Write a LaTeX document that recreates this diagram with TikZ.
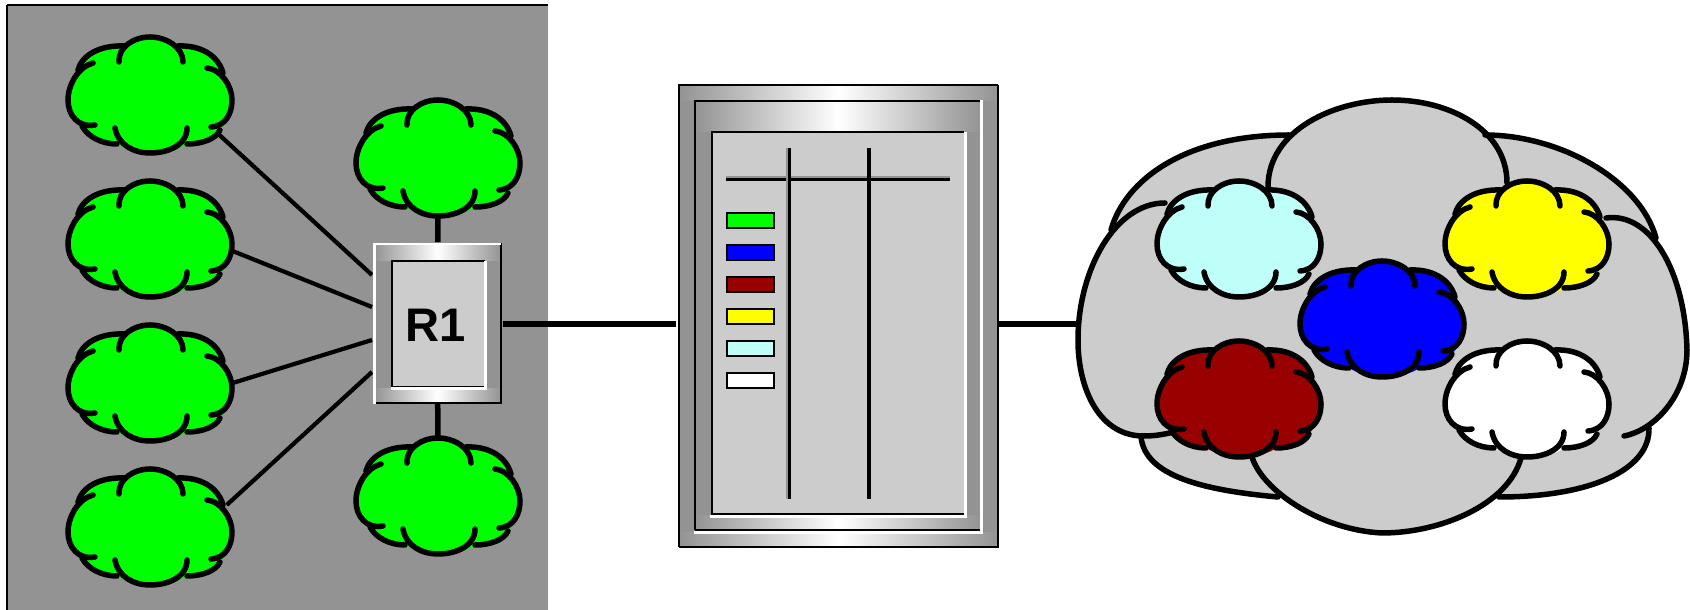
\documentclass[tikz,border=0pt]{standalone}
\usepackage{fontspec}
\setsansfont{Liberation Sans}
\usetikzlibrary{shapes.geometric}
\definecolor{panelgray}{HTML}{939393}
\definecolor{lightgray}{HTML}{CCCCCC}
\definecolor{cloudgreen}{HTML}{00FF00}
\definecolor{cloudblue}{HTML}{0000FF}
\definecolor{cloudred}{HTML}{990000}
\definecolor{cloudyellow}{HTML}{FFFF00}
\definecolor{cloudcyan}{HTML}{BFFFFA}
\tikzset{
  outline/.style={line width=0.055cm,line cap=round},
  wire/.style={line width=0.042cm},
  trunk/.style={line width=0.055cm},
  hair/.style={line width=0.012cm},
  edge/.style={line width=0.02cm},
  glint/.style={white,line width=0.028cm},
  cloudspot/.style={ellipse,minimum width=1.64cm,minimum height=1.16cm,inner sep=0pt},
  band/.style={left color=panelgray,right color=panelgray,middle color=white,shading angle=90},
  lumpcloud/.pic={
    \fill[#1] (-26,-49) .. controls (-16,-58) and (16,-58) .. (28,-49)
      .. controls (50,-50) and (68,-40) .. (73,-24)
      .. controls (80,-12) and (82,-4) .. (82,5)
      .. controls (82,16) and (78,26) .. (70,35)
      .. controls (66,44) and (52,49) .. (37,49)
      .. controls (24,60) and (-16,60) .. (-33,49)
      .. controls (-48,49) and (-62,42) .. (-68,31)
      .. controls (-76,24) and (-82,16) .. (-82,5)
      .. controls (-82,-6) and (-78,-16) .. (-72,-24)
      .. controls (-68,-40) and (-50,-50) .. (-26,-49) -- cycle;
    \draw[outline] (-31,-33) .. controls (-32,-48) and (-16,-58) .. (0,-58)
      .. controls (16,-58) and (33,-48) .. (33,-33);
    \draw[outline] (-35,33) .. controls (-32,50) and (-16,58) .. (0,58)
      .. controls (18,58) and (37,50) .. (37,33);
    \draw[outline] (57,-27) .. controls (70,-26) and (82,-10) .. (82,5)
      .. controls (82,18) and (76,31) .. (61,32);
    \draw[outline] (-57,-32) .. controls (-72,-28) and (-82,-10) .. (-82,5)
      .. controls (-82,20) and (-72,33) .. (-55,30);
    \draw[outline] (28,-49) .. controls (50,-50) and (68,-40) .. (73,-22);
    \draw[outline] (70,35) .. controls (66,44) and (52,49) .. (37,49);
    \draw[outline] (-68,31) .. controls (-62,42) and (-48,49) .. (-33,49);
    \draw[outline] (-72,-25) .. controls (-68,-40) and (-50,-50) .. (-26,-49);
  }
}
\begin{document}
\begin{tikzpicture}[x=0.01cm,y=-0.01cm]
  \useasboundingbox (0,0) rectangle (1690,610);
  \fill[panelgray] (7,5) rectangle (548,610);
  \draw[edge] (7,5) -- (548,5);
  \draw[edge] (7,5) -- (7,610);

  \foreach \n/\p/\q in {1/150/95, 2/150/239, 3/150/383, 4/150/527, 5/438/158, 6/438/496}
    {\node[cloudspot] (cloud\n) at (\p,\q) {};}
  \coordinate (port1) at (372,275);
  \coordinate (port2) at (372,307);
  \coordinate (port3) at (372,340);
  \coordinate (port4) at (372,372);
  \draw[wire] (cloud1.-29) -- (port1);
  \draw[wire] (cloud2.-8) -- (port2);
  \draw[wire] (cloud3.0) -- (port3);
  \draw[wire] (cloud4.16) -- (port4);
  \node[minimum width=1.29cm,minimum height=1.6cm,inner sep=0pt] (router) at (437.5,323) {};
  \draw[trunk] (cloud5) -- (router);
  \draw[trunk] (cloud6) -- (router);
  \foreach \n/\p/\q in {1/150/95, 2/150/239, 3/150/383, 4/150/527, 5/438/158, 6/438/496}
    {\pic at (\p,\q) {lumpcloud=cloudgreen};}

  \fill[panelgray] (374,244) rectangle (501,403);
  \shade[band] (374,244) rectangle (501,261);
  \shade[band] (374,389) rectangle (501,403);
  \draw[edge] (373,403) -- (501,403) -- (501,243);
  \draw[glint] (374.5,404) -- (374.5,244) -- (501,244);
  \fill[lightgray] (392,261) rectangle (486,387);
  \draw[hair] (392,386.5) -- (486,386.5);
  \draw[edge] (392,387) -- (392,261.5) -- (485,261.5);
  \draw[glint] (391,388.4) -- (485.7,388.4) -- (485.7,261);
  \node[font=\sffamily\bfseries\fontsize{13.4pt}{14pt}\selectfont,inner sep=0pt] (label) at (436,325) {R1};

  \node[minimum width=3.19cm,minimum height=4.63cm,inner sep=0pt] (server) at (838.5,316.5) {};
  \fill[panelgray] (679,85) rectangle (998,547);
  \shade[band] (679,85) rectangle (998,101);
  \shade[band] (679,533) rectangle (998,547);
  \draw[hair] (679,547) -- (679,85) -- (998,85);
  \draw[edge] (679,547) -- (998,547) -- (998,85);
  \fill[panelgray] (695,101) rectangle (981,531);
  \shade[band] (695,101) rectangle (981,132);
  \shade[band] (695,516) rectangle (981,531);
  \draw[hair] (695,530) -- (981,530);
  \draw[edge] (695,530) -- (695,101) -- (980,101);
  \draw[glint] (694,532.3) -- (981.5,532.3) -- (981.5,100);
  \fill[lightgray] (711,132) rectangle (965,514);
  \draw[hair] (711,514) -- (965,514);
  \draw[edge] (711.5,514) -- (711.5,132) -- (964,132);
  \draw[glint] (710,516.2) -- (965.5,516.2) -- (965.5,132);

  \draw[panelgray,edge] (726,176.8) -- (950,176.8);
  \draw[line width=0.03cm] (726,179.2) -- (950,179.2);
  \draw[panelgray,edge] (787.3,148) -- (787.3,499);
  \draw[line width=0.024cm] (789.5,148) -- (789.5,499);
  \draw[line width=0.034cm] (869,148) -- (869,499);
  \foreach \q/\c in {213/cloudgreen, 245/cloudblue, 277/cloudred, 309/cloudyellow, 341/cloudcyan, 373/white}
    {\filldraw[\c,draw=black,line width=0.024cm] (727,\q) rectangle (774,\q+15);}

  \coordinate (serverin) at (676,324);
  \coordinate (serverout) at (998,324);
  \coordinate (netin) at (1080,324);
  \draw[trunk] (router.east |- serverin) -- (serverin);
  \draw[trunk] (serverout) -- (netin);

  \fill[lightgray] (1113,230) .. controls (1125,180) and (1185,135) .. (1289,135)
    -- (1268,187) .. controls (1268,130) and (1335,100) .. (1392,100)
    .. controls (1450,100) and (1507,130) .. (1507,183)
    -- (1485,135) .. controls (1560,135) and (1640,180) .. (1656,238)
    -- (1662,252) .. controls (1677,275) and (1687,310) .. (1687,350)
    .. controls (1687,385) and (1670,415) .. (1649,428)
    .. controls (1650,470) and (1590,497) .. (1499,497)
    -- (1521,458) .. controls (1508,505) and (1440,533) .. (1382,533)
    .. controls (1320,530) and (1262,490) .. (1252,457)
    -- (1278,497) .. controls (1200,490) and (1145,475) .. (1141,437)
    .. controls (1100,437) and (1078,390) .. (1078,340)
    .. controls (1078,300) and (1090,262) .. (1113,230) -- cycle;
  \draw[outline] (1268,187) .. controls (1268,130) and (1335,100) .. (1392,100)
    .. controls (1450,100) and (1507,130) .. (1507,183);
  \draw[outline] (1111,230) .. controls (1125,180) and (1185,135) .. (1289,135);
  \draw[outline] (1485,135) .. controls (1560,135) and (1640,180) .. (1656,238);
  \draw[outline] (1165,203) .. controls (1115,203) and (1078,270) .. (1078,340)
    .. controls (1078,390) and (1100,437) .. (1145,436)
    .. controls (1160,436) and (1175,432) .. (1183,429);
  \draw[outline] (1606,218) .. controls (1650,212) and (1685,270) .. (1687,350)
    .. controls (1687,395) and (1655,430) .. (1624,436);
  \draw[outline] (1141,437) .. controls (1145,475) and (1200,490) .. (1278,497);
  \draw[outline] (1649,428) .. controls (1650,470) and (1590,497) .. (1499,497);
  \draw[outline] (1252,457) .. controls (1262,490) and (1320,530) .. (1382,533)
    .. controls (1440,533) and (1508,505) .. (1521,458);
  \node[minimum width=6.1cm,minimum height=4.33cm,inner sep=0pt] (network) at (1383,316) {};

  \pic at (1239,239) {lumpcloud=cloudcyan};
  \pic at (1527,239) {lumpcloud=cloudyellow};
  \pic at (1382,319) {lumpcloud=cloudblue};
  \pic at (1239,399) {lumpcloud=cloudred};
  \pic at (1527,399) {lumpcloud=white};
\end{tikzpicture}
\end{document}
